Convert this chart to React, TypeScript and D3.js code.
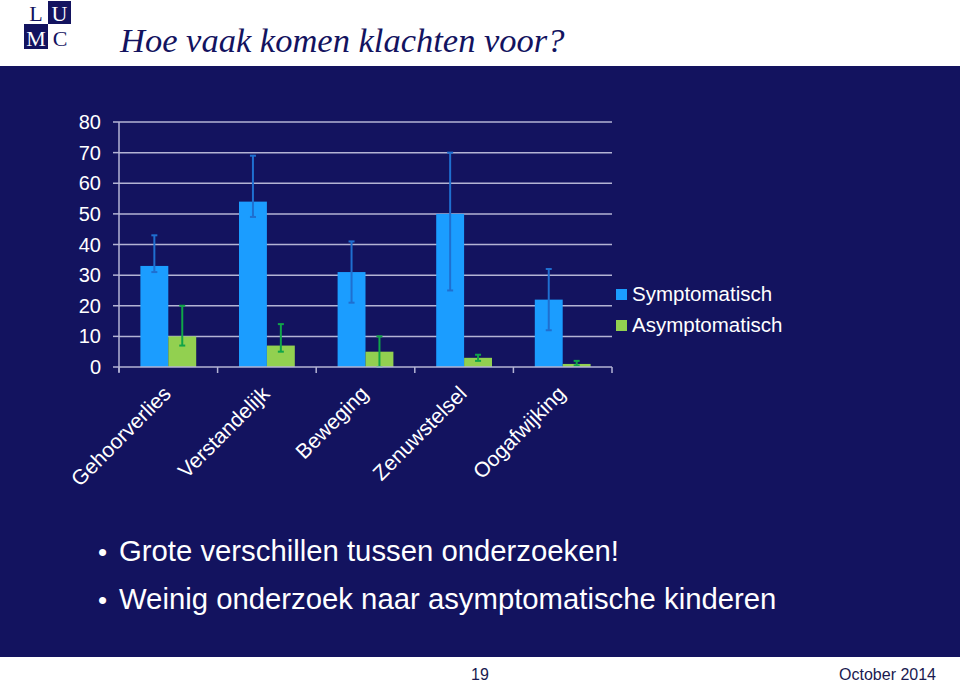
import React from 'react';
import * as d3 from 'd3';

// Chart data
const categories = ['Gehoorverlies', 'Verstandelijk', 'Beweging', 'Zenuwstelsel', 'Oogafwijking'];
const seriesNames = ['Symptomatisch', 'Asymptomatisch'];
const symptomatic = [33, 54, 31, 50, 22];
const symptomaticLow = [31, 49, 21, 25, 12];
const symptomaticHigh = [43, 69, 41, 70, 32];
const asymptomatic = [10, 7, 5, 3, 1];
const asymptomaticLow = [7, 5, 0, 2, 0.5];
const asymptomaticHigh = [20, 14, 10, 4, 2];
const yTicks = [0, 10, 20, 30, 40, 50, 60, 70, 80];
const bullets = ['Grote verschillen tussen onderzoeken!', 'Weinig onderzoek naar asymptomatische kinderen'];

const W = 960;
const H = 682;
const navy = '#13135f';
const barColors = ['#1b9dff', '#92d050'];
const errColors = ['#1f6fd0', '#10a548'];
const gridColor = '#b4b4d4';

const App = () => {
  const plot = { left: 119, right: 612, top: 122, bottom: 367 };

  const x0 = d3.scaleBand<string>().domain(categories).range([plot.left, plot.right]);
  const bw = x0.bandwidth();
  const x1 = d3.scaleBand<string>()
    .domain(seriesNames)
    .range([bw * 0.217, bw * 0.783]);
  const y = d3.scaleLinear().domain([0, 80]).range([plot.bottom, plot.top]);

  const series = [
    { values: symptomatic, low: symptomaticLow, high: symptomaticHigh },
    { values: asymptomatic, low: asymptomaticLow, high: asymptomaticHigh },
  ];

  const boundaries = d3.range(categories.length + 1).map(i => plot.left + i * bw);

  return (
    <svg width={W} height={H} style={{ position: 'absolute', left: 0, top: 0, display: 'block' }}>
      <rect x={0} y={0} width={W} height={H} fill="#ffffff" />

      {/* LUMC logo */}
      <g fontFamily="'Liberation Serif', 'Times New Roman', serif" fontSize={22} fill={navy}>
        <rect x={48} y={1} width={23} height={23} fill={navy} />
        <rect x={24} y={24} width={24} height={25} fill={navy} />
        <text x={36} y={21} textAnchor="middle">L</text>
        <text x={59.5} y={21} textAnchor="middle" fill="#ffffff">U</text>
        <text x={36} y={46} textAnchor="middle" fill="#ffffff">M</text>
        <text x={60} y={46} textAnchor="middle">C</text>
      </g>

      <text x={120} y={52} fontFamily="'Liberation Serif', 'Times New Roman', serif"
        fontStyle="italic" fontSize={34.5} fill={navy}>Hoe vaak komen klachten voor?</text>

      {/* navy panel */}
      <rect x={0} y={66} width={W} height={591} fill={navy} />

      <g fontFamily="'Liberation Sans', Arial, sans-serif" fill="#ffffff">
        {/* grid lines */}
        {yTicks.filter(t => t > 0).map(t => (
          <line key={t} x1={plot.left} x2={plot.right} y1={y(t)} y2={y(t)}
            stroke={gridColor} strokeWidth={1.5} />
        ))}
        {/* y axis */}
        <line x1={plot.left} x2={plot.left} y1={plot.top} y2={plot.bottom + 5} stroke={gridColor} strokeWidth={1.5} />
        {yTicks.map(t => (
          <g key={t}>
            <line x1={plot.left - 6} x2={plot.left} y1={y(t)} y2={y(t)} stroke={gridColor} strokeWidth={1.5} />
            <text x={101} y={y(t) + 7} textAnchor="end" fontSize={20}>{t}</text>
          </g>
        ))}

        {/* bars */}
        {series.map((s, si) => categories.map((c, ci) => (
          <rect key={`${si}-${ci}`} x={x0(c)! + x1(seriesNames[si])!} y={y(s.values[ci])}
            width={x1.bandwidth()} height={y(0) - y(s.values[ci])} fill={barColors[si]} />
        )))}

        {/* error bars */}
        {series.map((s, si) => categories.map((c, ci) => {
          const cx = x0(c)! + x1(seriesNames[si])! + x1.bandwidth() / 2;
          return (
            <g key={`e${si}-${ci}`} stroke={errColors[si]} strokeWidth={2}>
              <line x1={cx} x2={cx} y1={y(s.low[ci])} y2={y(s.high[ci])} />
              <line x1={cx - 3} x2={cx + 3} y1={y(s.low[ci])} y2={y(s.low[ci])} />
              <line x1={cx - 3} x2={cx + 3} y1={y(s.high[ci])} y2={y(s.high[ci])} />
            </g>
          );
        }))}

        {/* x axis */}
        <line x1={plot.left} x2={plot.right} y1={plot.bottom} y2={plot.bottom} stroke={gridColor} strokeWidth={1.5} />
        {boundaries.map((b, i) => (
          <line key={i} x1={b} x2={b} y1={plot.bottom} y2={plot.bottom + 6} stroke={gridColor} strokeWidth={1.5} />
        ))}
        {categories.map(c => (
          <text key={c} fontSize={21} textAnchor="end"
            transform={`translate(${x0(c)! + bw / 2 + 4},${plot.bottom + 28}) rotate(-45)`}>{c}</text>
        ))}

        {/* legend */}
        {seriesNames.map((n, i) => (
          <g key={n} transform={`translate(616,${289 + i * 31})`}>
            <rect x={0} y={0} width={11} height={11} fill={barColors[i]} />
            <text x={16} y={12} fontSize={20.5}>{n}</text>
          </g>
        ))}

        {/* bullets */}
        {bullets.map((b, i) => (
          <g key={i}>
            <text x={98} y={561 + i * 48} fontSize={26}>•</text>
            <text x={119} y={561 + i * 48} fontSize={29.3}>{b}</text>
          </g>
        ))}
      </g>

      {/* footer */}
      <g fontFamily="'Liberation Sans', Arial, sans-serif" fontSize={16} fill="#1a1a50">
        <text x={480} y={680} textAnchor="middle">19</text>
        <text x={936} y={680} textAnchor="end">October 2014</text>
      </g>
    </svg>
  );
};

export default App;
